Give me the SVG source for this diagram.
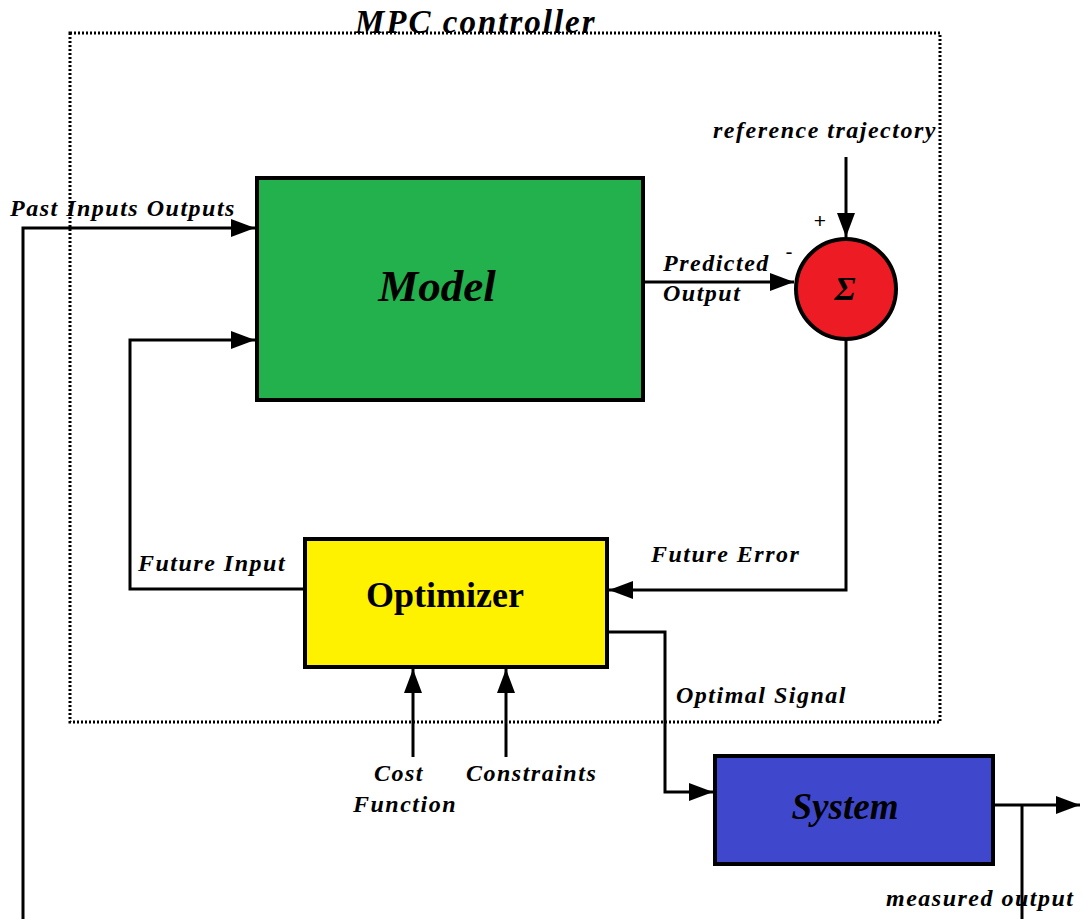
<svg xmlns="http://www.w3.org/2000/svg" width="1085" height="919" viewBox="0 0 1085 919">
<defs>
<marker id="arr" markerUnits="userSpaceOnUse" markerWidth="26" markerHeight="18" refX="24" refY="9" orient="auto">
<path d="M0,0 L24,9 L0,18 Z" fill="#000"/>
</marker>
<style>
.lbl{font-family:"Liberation Serif",serif;font-style:italic;font-weight:bold;font-size:24px;letter-spacing:1.5px;fill:#000}
.ln{fill:none;stroke:#000;stroke-width:3}
.box{stroke:#000;stroke-width:4}
</style>
</defs>
<rect id="mpc-frame" x="70" y="33" width="870" height="689" fill="none" stroke="#000" stroke-width="3" stroke-dasharray="2,2"/>
<text x="355" y="33" font-family="Liberation Serif,serif" font-style="italic" font-weight="bold" font-size="33" letter-spacing="2">MPC controller</text>
<g id="connectors">
<polyline class="ln" points="23,919 23,228 255,228" marker-end="url(#arr)"/>
<polyline class="ln" points="305,589 130,589 130,340 255,340" marker-end="url(#arr)"/>
<line class="ln" x1="643" y1="282" x2="794" y2="282" marker-end="url(#arr)"/>
<line class="ln" x1="846" y1="157" x2="846" y2="237" marker-end="url(#arr)"/>
<polyline class="ln" points="846,340 846,590 609,590" marker-end="url(#arr)"/>
<polyline class="ln" points="607,632 665,632 665,792 713,792" marker-end="url(#arr)"/>
<line class="ln" x1="413" y1="757" x2="413" y2="669" marker-end="url(#arr)"/>
<line class="ln" x1="506" y1="757" x2="506" y2="669" marker-end="url(#arr)"/>
<line class="ln" x1="993" y1="805" x2="1080" y2="805" marker-end="url(#arr)"/>
<line class="ln" x1="1022" y1="805" x2="1022" y2="919"/>
</g>
<g id="model">
<rect class="box" x="257" y="178" width="386" height="222" fill="#22b14c"/>
<text x="437" y="301" text-anchor="middle" font-family="Liberation Serif,serif" font-style="italic" font-weight="bold" font-size="45">Model</text>
</g>
<g id="sum">
<circle cx="846" cy="289" r="50" fill="#ed1c24" stroke="#000" stroke-width="4"/>
<text x="845" y="300" text-anchor="middle" font-family="Liberation Serif,serif" font-style="italic" font-weight="bold" font-size="34">Σ</text>
<text x="820" y="228" text-anchor="middle" font-family="Liberation Sans,sans-serif" font-size="21">+</text>
<text x="789" y="259" text-anchor="middle" font-family="Liberation Sans,sans-serif" font-size="21">-</text>
</g>
<g id="optimizer">
<rect class="box" x="305" y="539" width="302" height="128" fill="#fff200"/>
<text x="445" y="607" text-anchor="middle" font-family="Liberation Serif,serif" font-weight="bold" font-size="36">Optimizer</text>
</g>
<g id="system">
<rect class="box" x="715" y="756" width="278" height="108" fill="#3f48cc"/>
<text x="845" y="819" text-anchor="middle" font-family="Liberation Serif,serif" font-style="italic" font-weight="bold" font-size="37">System</text>
</g>
<g id="labels">
<text class="lbl" x="10" y="216">Past Inputs Outputs</text>
<text class="lbl" x="713" y="138">reference trajectory</text>
<text class="lbl" x="663" y="271">Predicted</text>
<text class="lbl" x="663" y="301">Output</text>
<text class="lbl" x="138" y="571">Future Input</text>
<text class="lbl" x="651" y="562">Future Error</text>
<text class="lbl" x="676" y="703">Optimal Signal</text>
<text class="lbl" x="399" y="781" text-anchor="middle">Cost</text>
<text class="lbl" x="405" y="812" text-anchor="middle">Function</text>
<text class="lbl" x="466" y="781">Constraints</text>
<text class="lbl" x="886" y="906">measured output</text>
</g>
</svg>
